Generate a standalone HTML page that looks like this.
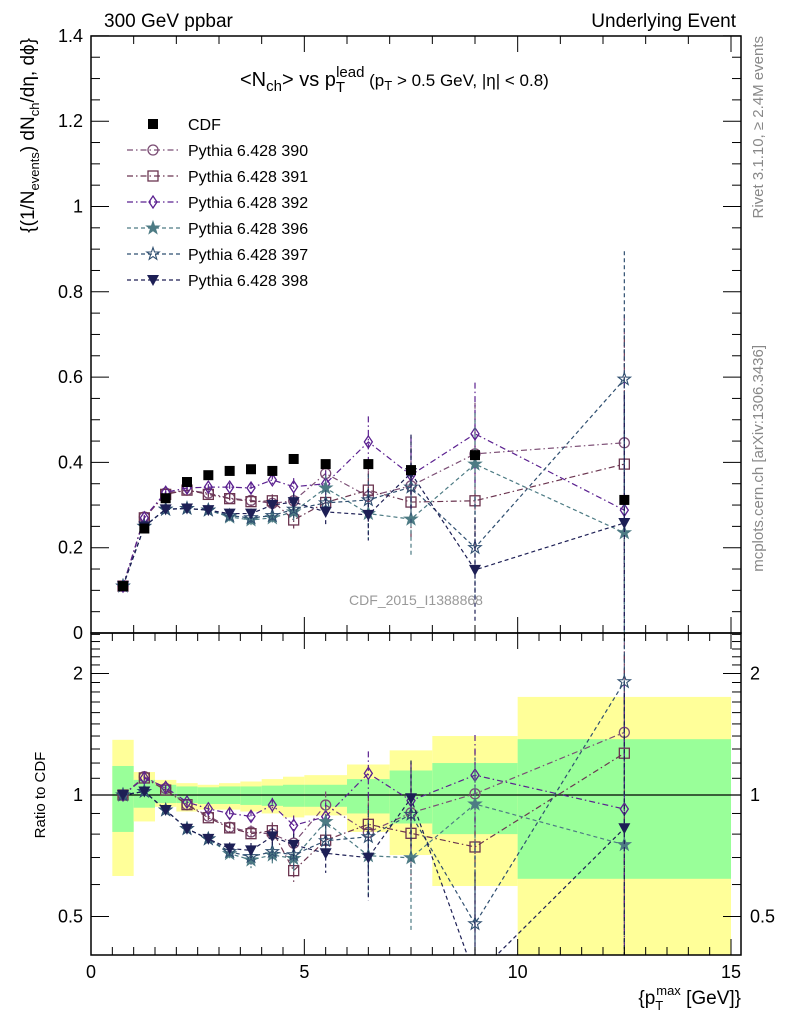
<!DOCTYPE html>
<html><head><meta charset="utf-8"><style>
html,body{margin:0;padding:0;background:#fff;overflow:hidden;width:786px;height:1024px;}
svg{display:block;font-family:"Liberation Sans",sans-serif;}
</style></head><body>
<svg id="chart" width="786" height="1024" viewBox="0 0 786 1024" xmlns="http://www.w3.org/2000/svg">
<defs>
<clipPath id="clipMain"><rect x="91" y="36" width="650" height="597"/></clipPath>
<clipPath id="clipRatio"><rect x="91" y="633" width="650" height="322"/></clipPath>
</defs>
<g id="bands" clip-path="url(#clipRatio)"></g>
<g id="grid"></g>
<g id="mainMarks" clip-path="url(#clipMain)"></g>
<g id="ratioMarks" clip-path="url(#clipRatio)"></g>
<g id="axes"></g>
<text x="104" y="27" font-size="19">300 GeV ppbar</text>
<text x="736" y="27" font-size="19" text-anchor="end">Underlying Event</text>
<text x="240" y="86" font-size="20">&lt;N<tspan font-size="15" dy="5">ch</tspan><tspan dy="-5">&gt; vs p</tspan><tspan font-size="15" dy="6">T</tspan><tspan font-size="15" dy="-15" dx="-9">lead</tspan><tspan font-size="17" dy="9"> (p</tspan><tspan font-size="13" dy="4">T</tspan><tspan font-size="17" dy="-4"> &gt; 0.5 GeV, |η| &lt; 0.8)</tspan></text>
<text transform="translate(34,38) rotate(-90)" font-size="19" text-anchor="end">{(1/N<tspan font-size="13" dy="5">events</tspan><tspan dy="-5">) dN</tspan><tspan font-size="13" dy="5">ch</tspan><tspan dy="-5">/dη, dϕ}</tspan></text>
<text transform="translate(45,795) rotate(-90)" font-size="15" text-anchor="middle">Ratio to CDF</text>
<text x="741" y="1004" font-size="19" text-anchor="end">{p<tspan font-size="13" dy="6">T</tspan><tspan font-size="13" dy="-15" dx="-7">max</tspan><tspan dy="9"> [GeV]}</tspan></text>
<text transform="translate(763,36) rotate(-90)" font-size="15" fill="#888" text-anchor="end">Rivet 3.1.10, ≥ 2.4M events</text>
<text transform="translate(763,345) rotate(-90)" font-size="15" fill="#888" text-anchor="end">mcplots.cern.ch [arXiv:1306.3436]</text>
<text x="416" y="605" font-size="14" fill="#999" text-anchor="middle">CDF_2015_I1388868</text>
<g id="legend"></g>
</svg>
<script>
const binLo=[0.5,1,1.5,2,2.5,3,3.5,4,4.5,5,6,7,8,10];
const binHi=[1,1.5,2,2.5,3,3.5,4,4.5,5,6,7,8,10,15];
const xCenters=[0.75,1.25,1.75,2.25,2.75,3.25,3.75,4.25,4.75,5.5,6.5,7.5,9,12.5];
const cdfValues=[0.11,0.245,0.316,0.354,0.37,0.38,0.384,0.38,0.408,0.396,0.396,0.382,0.417,0.312];
const bandTotalUp=[1.37,1.14,1.09,1.07,1.06,1.07,1.08,1.095,1.11,1.12,1.19,1.29,1.40,1.75];
const bandTotalDn=[0.63,0.86,0.935,0.91,0.92,0.92,0.91,0.90,0.88,0.89,0.81,0.71,0.595,0.35];
const bandStatUp=[1.18,1.09,1.06,1.05,1.045,1.05,1.05,1.055,1.06,1.06,1.095,1.15,1.2,1.375];
const bandStatDn=[0.81,0.93,0.955,0.955,0.95,0.95,0.945,0.94,0.935,0.935,0.90,0.85,0.80,0.62];
const p390=[0.11,0.272,0.328,0.335,0.328,0.316,0.311,0.304,0.31,0.374,0.32,0.345,0.42,0.446];
const p391=[0.11,0.27,0.325,0.335,0.325,0.315,0.308,0.31,0.265,0.306,0.335,0.307,0.31,0.396];
const p392=[0.11,0.27,0.33,0.34,0.342,0.342,0.34,0.359,0.343,0.35,0.448,0.37,0.467,0.288];
const p396=[0.11,0.25,0.29,0.292,0.288,0.272,0.265,0.27,0.284,0.34,0.28,0.267,0.396,0.235];
const p397=[0.11,0.25,0.29,0.292,0.288,0.275,0.27,0.275,0.29,0.305,0.312,0.342,0.2,0.595];
const p398=[0.11,0.25,0.29,0.292,0.288,0.28,0.28,0.3,0.307,0.284,0.277,0.375,0.148,0.258];
const mcErr=[0.003,0.005,0.005,0.006,0.007,0.01,0.012,0.015,0.02,0.03,0.06,0.09,0.12,0.3];
const xTickLabels=[0,5,10,15];
const yTickLabels=[0,0.2,0.4,0.6,0.8,1,1.2,1.4];
const rTickLabels=[0.5,1,2];

const NS="http://www.w3.org/2000/svg";
const X=v=>91+v*42.667;
const Y=v=>633-v*426.5;
const YR=r=>795-Math.log2(r)*121.5;
function mk(tag,attrs,parent){const e=document.createElementNS(NS,tag);for(const k in attrs)e.setAttribute(k,attrs[k]);parent.appendChild(e);return e;}
const gB=document.getElementById('bands'),gG=document.getElementById('grid'),gM=document.getElementById('mainMarks'),gR=document.getElementById('ratioMarks'),gA=document.getElementById('axes'),gL=document.getElementById('legend');

for(let i=0;i<binLo.length;i++){
  const y1=mk('rect',{x:X(binLo[i]),width:X(binHi[i])-X(binLo[i]),y:YR(bandTotalUp[i]),height:YR(bandTotalDn[i])-YR(bandTotalUp[i]),fill:'#ffff99'},gB);
  
  
  const g1=mk('rect',{x:X(binLo[i]),width:X(binHi[i])-X(binLo[i]),y:YR(bandStatUp[i]),height:YR(bandStatDn[i])-YR(bandStatUp[i]),fill:'#99ff99'},gB);
  
  
}
const one=mk('line',{x1:91,x2:741,y1:YR(1),y2:YR(1),stroke:'#000','stroke-width':1.3},gG);



function marker(type,cx,cy,col,parent){
  if(type==='fsq') return mk('rect',{x:cx-5,y:cy-5,width:10,height:10,fill:'#000'},parent);
  if(type==='circle') return mk('circle',{cx:cx,cy:cy,r:5,fill:'none',stroke:col,'stroke-width':1.3},parent);
  if(type==='square') return mk('rect',{x:cx-5,y:cy-5,width:10,height:10,fill:'none',stroke:col,'stroke-width':1.3},parent);
  if(type==='diamond') return mk('path',{d:`M${cx},${cy-6}L${cx+4},${cy}L${cx},${cy+6}L${cx-4},${cy}Z`,fill:'none',stroke:col,'stroke-width':1.3},parent);
  if(type==='tri') return mk('path',{d:`M${cx-6},${cy-5}L${cx+6},${cy-5}L${cx},${cy+6}Z`,fill:col},parent);
  let d='';for(let k=0;k<10;k++){const a=-Math.PI/2+k*Math.PI/5;const r=k%2?2.6:6.5;d+=(k?'L':'M')+(cx+r*Math.cos(a)).toFixed(1)+','+(cy+r*Math.sin(a)).toFixed(1);}
  return mk('path',{d:d+'Z',fill:type==='fstar'?col:'none',stroke:col,'stroke-width':1.1},parent);
}
const series=[
 {name:'pythia-390',vals:p390,col:'#7b4d74',m:'circle',dash:'6,3,1.5,3'},
 {name:'pythia-391',vals:p391,col:'#6b3550',m:'square',dash:'6,3,1.5,3'},
 {name:'pythia-392',vals:p392,col:'#5b2190',m:'diamond',dash:'6,3,1.5,3'},
 {name:'pythia-396',vals:p396,col:'#4d7b84',m:'fstar',dash:'4,3'},
 {name:'pythia-397',vals:p397,col:'#2f4f70',m:'star',dash:'4,3'},
 {name:'pythia-398',vals:p398,col:'#1d1f55',m:'tri',dash:'4,3'}];
series.forEach(s=>{
  const g=mk('g',{},gM);
  
  
  const gr=mk('g',{},gR);
  
  
  let pts='',rp='';
  s.vals.forEach((v,i)=>{
    pts+=X(xCenters[i])+','+Y(v)+' ';
    rp+=X(xCenters[i])+','+YR(v/cdfValues[i])+' ';
  });
  mk('polyline',{points:pts,fill:'none',stroke:s.col,'stroke-width':1.2,'stroke-dasharray':s.dash},g);
  mk('polyline',{points:rp,fill:'none',stroke:s.col,'stroke-width':1.2,'stroke-dasharray':s.dash},gr);
  s.vals.forEach((v,i)=>{
    const e=mcErr[i],x=X(xCenters[i]);
    mk('line',{x1:x,x2:x,y1:Y(v+e),y2:Y(Math.max(0,v-e)),stroke:s.col,'stroke-width':1.2,'stroke-dasharray':s.dash},g);
    const r=v/cdfValues[i],re=e/cdfValues[i];
    mk('line',{x1:x,x2:x,y1:YR(r+re),y2:YR(Math.max(0.05,r-re)),stroke:s.col,'stroke-width':1.2,'stroke-dasharray':s.dash},gr);
    const p=marker(s.m,x,Y(v),s.col,g);
    
    
    const q=marker(s.m,x,YR(r),s.col,gr);
    
    
  });
});
cdfValues.forEach((v,i)=>{
  const p=marker('fsq',X(xCenters[i]),Y(v),'#000',gM);
  
  
});

const leg=[{label:'CDF',m:'fsq',col:'#000'}].concat(series.map(s=>({label:'Pythia 6.428 '+s.name.slice(-3),m:s.m,col:s.col,dash:s.dash})));
leg.forEach((l,i)=>{
  const y=124+i*26;
  const g=mk('g',{},gL);
  
  
  if(l.dash) mk('line',{x1:127,x2:180,y1:y,y2:y,stroke:l.col,'stroke-width':1.2,'stroke-dasharray':l.dash},g);
  marker(l.m,153,y,l.col,g);
  const t=mk('text',{x:188,y:y+6,'font-size':16},g);t.textContent=l.label;
});

const f1=mk('rect',{x:91,y:36,width:650,height:597,fill:'none',stroke:'#000','stroke-width':1.5},gA);


const f2=mk('rect',{x:91,y:633,width:650,height:322,fill:'none',stroke:'#000','stroke-width':1.5},gA);


for(let v=0;v<=15.001;v+=0.5){
  const maj=Math.abs(v%5)<1e-6, x=X(v);
  if(Math.abs(v%1)<1e-6||maj){mk('line',{x1:x,x2:x,y1:633,y2:633-(maj?16:8),stroke:'#000'},gA);mk('line',{x1:x,x2:x,y1:36,y2:36+(maj?16:8),stroke:'#000'},gA);}
  mk('line',{x1:x,x2:x,y1:955,y2:955-(maj?16:8),stroke:'#000'},gA);
  mk('line',{x1:x,x2:x,y1:633,y2:633+(maj?16:8),stroke:'#000'},gA);
}
xTickLabels.forEach(v=>{const t=mk('text',{x:X(v),y:978,'font-size':18,'text-anchor':'middle'},gA);t.textContent=v;
  
  });
for(let v=0;v<=1.4001;v+=0.05){
  const maj=Math.abs((v/0.2)-Math.round(v/0.2))<1e-6,y=Y(v);
  mk('line',{x1:91,x2:91+(maj?18:9),y1:y,y2:y,stroke:'#000'},gA);
  mk('line',{x1:741,x2:741-(maj?18:9),y1:y,y2:y,stroke:'#000'},gA);
}
yTickLabels.forEach(v=>{const t=mk('text',{x:83,y:Y(v)+6,'font-size':18,'text-anchor':'end'},gA);t.textContent=v;
  
  });
const rMinor=[0.4,0.5,0.6,0.7,0.8,0.9,1,1.1,1.2,1.3,1.4,1.5,1.6,1.7,1.8,1.9,2,2.1,2.2,2.3,2.4,2.5];
rMinor.forEach(r=>{const maj=rTickLabels.includes(r),y=YR(r);if(y<633||y>955)return;
  mk('line',{x1:91,x2:91+(maj?18:9),y1:y,y2:y,stroke:'#000'},gA);
  mk('line',{x1:741,x2:741-(maj?18:9),y1:y,y2:y,stroke:'#000'},gA);});
rTickLabels.forEach(r=>{
  const t=mk('text',{x:83,y:YR(r)+6,'font-size':18,'text-anchor':'end'},gA);t.textContent=r;
  
  
  const t2=mk('text',{x:750,y:YR(r)+6,'font-size':18},gA);t2.textContent=r;
  
  
});
</script>
</body></html>
